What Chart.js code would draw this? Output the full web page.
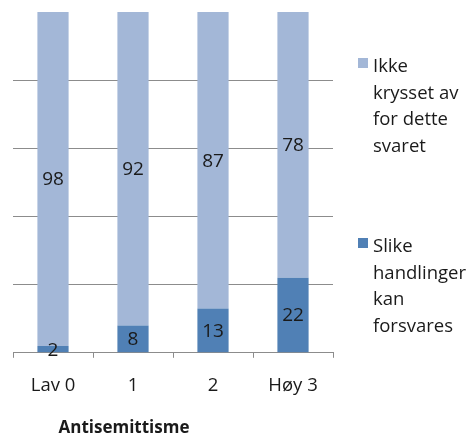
<!DOCTYPE html>
<html>
<head>
<meta charset="utf-8">
<script src="https://cdn.jsdelivr.net/npm/chart.js@4"></script>
<style>
  body { margin: 0; background: #fff; }
  #wrap { position: relative; width: 472px; height: 438px; font-family: "Open Sans", sans-serif; color: #1a1a1a; }
  #chart { position: absolute; left: 0; top: 0; }
  .item { position: absolute; left: 358px; font-size: 18.5px; line-height: 26.7px; }
  .item span.box { position: absolute; left: 0; width: 10px; height: 10px; }
  .item div { margin-left: 15px; }
</style>
</head>
<body>
<div id="wrap">
  <canvas id="chart" width="472" height="438"></canvas>
  <div id="legend"></div>
</div>
<script>
// Data
const categories = ["Lav 0", "1", "2", "Høy 3"];
const forsvares = [2, 8, 13, 22];
const ikkeKrysset = [98, 92, 87, 78];
const seriesNames = [
    ["Ikke", "krysset av", "for dette", "svaret"],
    ["Slike", "handlinger", "kan", "forsvares"]
];
const axisTitle = "Antisemittisme";

const lightBlue = "#a3b7d7";
const darkBlue = "#5080b5";

// HTML legend (light series first, like the original)
const legend = document.getElementById("legend");
[[seriesNames[0], lightBlue, 52], [seriesNames[1], darkBlue, 232]].forEach(([lines, color, top]) => {
    const item = document.createElement("div");
    item.className = "item";
    item.style.top = top + "px";
    item.innerHTML = `<span class="box" style="background:${color};top:6px"></span><div>${lines.join("<br>")}</div>`;
    legend.appendChild(item);
});

// value labels in the middle of each segment
const segmentLabels = {
    id: "segmentLabels",
    afterDatasetsDraw(chart) {
        const ctx = chart.ctx;
        ctx.save();
        ctx.font = '19px "Open Sans"';
        ctx.fillStyle = "#1a1a1a";
        ctx.textAlign = "center";
        ctx.textBaseline = "middle";
        chart.data.datasets.forEach((ds, i) => {
            chart.getDatasetMeta(i).data.forEach((bar, j) => {
                const p = bar.getCenterPoint();
                ctx.fillText(ds.data[j], p.x, p.y + 1);
            });
        });
        ctx.restore();
    }
};

// axis title, sits left of centre in the original
const xTitle = {
    id: "xTitle",
    afterDraw(chart) {
        const ctx = chart.ctx;
        ctx.save();
        ctx.font = 'bold 17px "Open Sans"';
        ctx.fillStyle = "#1a1a1a";
        ctx.textAlign = "center";
        ctx.textBaseline = "middle";
        ctx.fillText(axisTitle, 124, 428);
        ctx.restore();
    }
};

const chart = new Chart(document.getElementById("chart"), {
    type: "bar",
    data: {
        labels: categories,
        datasets: [
            { label: seriesNames[1].join(" "), data: forsvares, backgroundColor: darkBlue },
            { label: seriesNames[0].join(" "), data: ikkeKrysset, backgroundColor: lightBlue }
        ]
    },
    options: {
        responsive: false,
        animation: false,
        layout: { padding: { left: 13, right: 139, top: 12, bottom: 24 } },
        plugins: { legend: { display: false }, tooltip: { enabled: false } },
        datasets: { bar: { barPercentage: 0.39, categoryPercentage: 1 } },
        scales: {
            x: {
                stacked: true,
                grid: { drawOnChartArea: false, tickLength: 5, color: "#8c8c8c" },
                border: { color: "#8c8c8c" },
                ticks: { color: "#1a1a1a", font: { family: "Open Sans", size: 18.5 }, padding: 17 }
            },
            y: {
                stacked: true,
                min: 0, max: 100,
                ticks: { display: false, stepSize: 20 },
                border: { display: false },
                grid: {
                    drawTicks: false,
                    color: c => (c.tick.value === 100 ? "rgba(0,0,0,0)" : "#8c8c8c")
                }
            }
        }
    },
    plugins: [segmentLabels, xTitle]
});
</script>
</body>
</html>
